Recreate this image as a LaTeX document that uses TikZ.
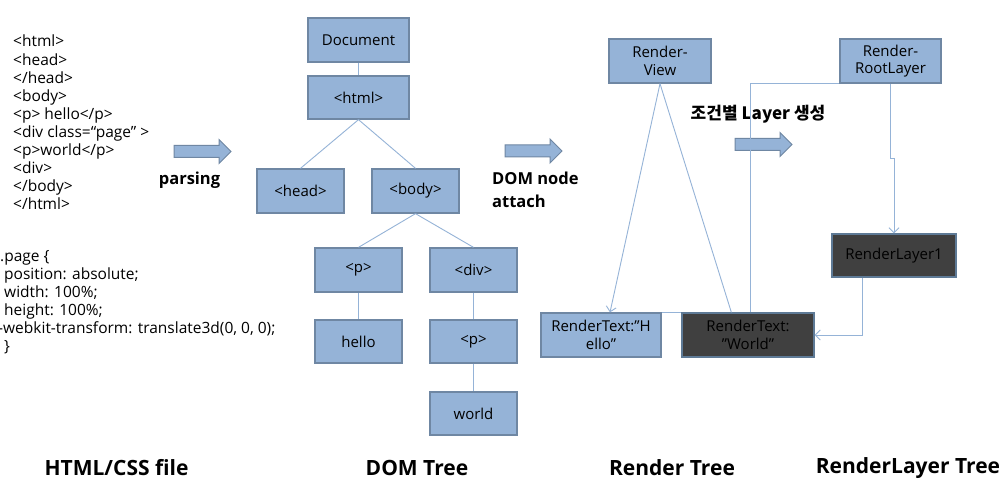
\documentclass[tikz,border=0pt]{standalone}
\usepackage{fontspec}
\setmainfont{Open Sans}
\newfontfamily\krfont{Noto Sans CJK KR}
\usetikzlibrary{arrows.meta,shapes.arrows,calc}
\definecolor{boxfill}{HTML}{95B3D7}
\definecolor{boxline}{HTML}{6F87A3}
\definecolor{darkfill}{HTML}{404040}
\definecolor{darkline}{HTML}{5E7A96}
\definecolor{linkcol}{HTML}{95B3D7}
\tikzset{
  lbox/.style={draw=boxline,line width=1.3pt,fill=boxfill,inner sep=1pt,align=center,
    font=\fontsize{15}{17.5}\selectfont,text=black},
  dbox/.style={lbox,draw=darkline,fill=darkfill,text=black},
  link/.style={draw=linkcol,line width=0.9pt},
  tip/.style={-{Straight Barb[length=5pt,width=10pt,line width=0.9pt]}},
  barrow/.style={single arrow,draw=boxline,line width=1pt,fill=boxfill,minimum width=23pt,
    minimum height=57pt,single arrow head extend=6pt,single arrow head indent=0pt,
    inner xsep=0pt,inner ysep=5.5pt},
  codetext/.style={anchor=north west,inner sep=0pt,align=left,font=\fontsize{15.5}{18.1}\selectfont},
  blab/.style={inner sep=0pt,font=\bfseries\fontsize{16.5}{23}\selectfont},
  title/.style={inner sep=0pt,font=\bfseries\fontsize{21}{24}\selectfont}
}
\begin{document}
\begin{tikzpicture}[x=1pt,y=-1pt]
\useasboundingbox[fill=white] (0,0) rectangle (1005,492);
% code text
\node[codetext] (html) at (13,35) {<html>\\<head>\\</head>\\<body>\\<p> hello</p>\\<div class=“page” >\\<p>world</p>\\<div>\\</body>\\</html>};
\node[codetext] (css) at (0,250) {.page \{\\\hspace*{4pt}position: absolute;\\\hspace*{4pt}width: 100\%;\\\hspace*{4pt}height: 100\%;\\\hspace*{-2pt}-webkit-transform: translate3d(0, 0, 0);\\\hspace*{4pt}\}};
% arrows
\node[barrow] (a1) at (199.5,151.5) {};
\node[blab] (parsing) at (189.5,180) {parsing};
\node[barrow] (a2) at (530.5,151) {};
\node[blab,anchor=west,align=left] (dom) at (492,189.5) {DOM node\\attach};
\node[barrow] (a3) at (760.5,144.5) {};
\node[blab,font=\krfont\bfseries\fontsize{17}{20}\selectfont] (kr) at (758,114) {조건별 Layer 생성};
% DOM tree
\node[lbox,minimum width=101pt,minimum height=44pt] (doc) at (358.5,40) {Document};
\node[lbox,minimum width=101pt,minimum height=43pt] (hhtml) at (358.5,97.5) {<html>};
\node[lbox,minimum width=87pt,minimum height=44pt] (head) at (300.5,191) {<head>};
\node[lbox,minimum width=87pt,minimum height=44pt] (body) at (415.5,191) {<body>};
\node[lbox,minimum width=87pt,minimum height=44pt] (p1) at (358.5,270) {<p>};
\node[lbox,minimum width=87pt,minimum height=44pt] (div) at (473.5,270) {<div>};
\node[lbox,minimum width=87pt,minimum height=43pt] (hello) at (358.5,341.5) {hello};
\node[lbox,minimum width=87pt,minimum height=43pt] (p2) at (473.5,341.5) {<p>};
\node[lbox,minimum width=87pt,minimum height=43pt] (world) at (473.5,413.5) {world};
\draw[link] (doc) -- (hhtml);
\draw[link] (hhtml.south) -- (head.north);
\draw[link] (hhtml.south) -- (body.north);
\draw[link] (body.south) -- (p1.north);
\draw[link] (body.south) -- (div.north);
\draw[link] (p1) -- (hello);
\draw[link] (div) -- (p2);
\draw[link] (p2) -- (world);
% Render tree
\node[lbox,minimum width=102pt,minimum height=44pt] (rview) at (660,61) {Render-\\View};
\node[lbox,minimum width=120pt,minimum height=44pt] (rhello) at (601,335) {RenderText:”H\\ello”};
\node[dbox,minimum width=132pt,minimum height=44pt] (rworld) at (748,335) {RenderText:\\”World”};
% RenderLayer tree
\node[lbox,minimum width=101pt,minimum height=44pt] (rroot) at (890.5,61) {Render-\\RootLayer};
\node[dbox,minimum width=124pt,minimum height=43pt] (rl1) at (894,255.5) {RenderLayer1};
\coordinate (hv) at ($(rhello.north)+(9,0)$);
\coordinate (wv) at ($(rworld.north west)+(50,0)$);
\draw[link,tip] (rview.south) -- (hv);
\draw[link] (rview.south) -- (wv);
\draw[link] (rhello.north east) -- (rworld.north west);
\coordinate (wt) at ($(rworld.north)+(2,0)$);
\draw[link] (rroot.south west) -| (wt);
\coordinate (rs) at ($(rroot.south)+(0,75)$);
\draw[link,tip] (rroot.south) -- (rs) -| (rl1.north);
\coordinate (ls) at ($(rl1.south west)+(31,0)$);
\draw[link,tip] (ls) |- (rworld.east);
% titles
\node[title] (t1) at (116.5,468) {HTML/CSS file};
\node[title] (t2) at (417,468) {DOM Tree};
\node[title] (t3) at (672,468) {Render Tree};
\node[title] (t4) at (908,468) {RenderLayer Tree};
\end{tikzpicture}
\end{document}
